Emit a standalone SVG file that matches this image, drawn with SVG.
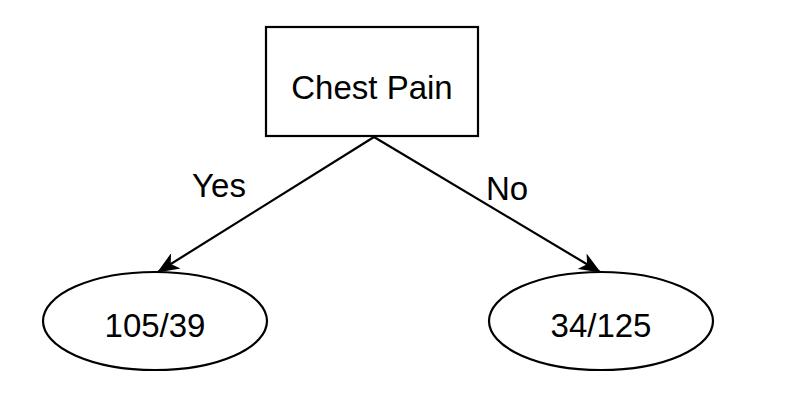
<svg xmlns="http://www.w3.org/2000/svg" width="800" height="409" viewBox="0 0 800 409">
<defs>
<style>
.shape{fill:#fff;stroke:#000;stroke-width:2.2}
.lbl{font-family:"Liberation Sans",Arial,sans-serif;font-size:33px;fill:#000;text-anchor:middle}
.edge{stroke:#000;stroke-width:2.2;fill:none}
</style>
<marker id="arr" viewBox="0 0 22 18" refX="21" refY="9" markerWidth="22" markerHeight="18" markerUnits="userSpaceOnUse" orient="auto">
<path d="M0,0 L22,9 L0,18 L6,9 Z" fill="#000"/>
</marker>
</defs>
<rect width="800" height="409" fill="#fff"/>
<g id="connectors">
<line class="edge" x1="374" y1="137" x2="158" y2="272" marker-end="url(#arr)"/>
<line class="edge" x1="374" y1="137" x2="600" y2="272" marker-end="url(#arr)"/>
<text class="lbl" x="219" y="197">Yes</text>
<text class="lbl" x="507" y="200">No</text>
</g>
<g id="chest-pain">
<rect class="shape" x="266" y="27" width="212" height="109"/>
<text class="lbl" x="372" y="99">Chest Pain</text>
</g>
<g id="yes-leaf">
<ellipse class="shape" cx="155" cy="321" rx="112" ry="49"/>
<text class="lbl" x="155" y="337">105/39</text>
</g>
<g id="no-leaf">
<ellipse class="shape" cx="601" cy="321" rx="112" ry="49"/>
<text class="lbl" x="601" y="337">34/125</text>
</g>
</svg>
